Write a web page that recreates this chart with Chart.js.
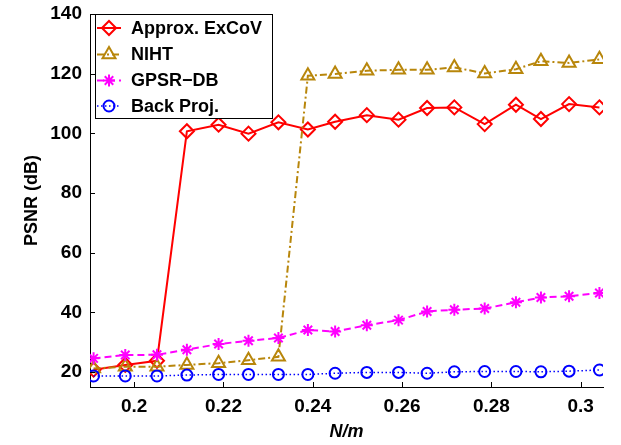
<!DOCTYPE html>
<html>
<head>
<meta charset="utf-8">
<script src="https://cdn.jsdelivr.net/npm/chart.js@4/dist/chart.umd.min.js"></script>
<style>
  html, body { margin: 0; padding: 0; background: #fff; }
  #wrap { width: 621px; height: 445px; position: relative; }
</style>
</head>
<body>
<div id="wrap"><canvas id="c" width="621" height="445"></canvas></div>
<script>
// N/m positions (x)
const nOverM = [0.1909, 0.1980, 0.2051, 0.2118, 0.2189, 0.2256, 0.2323, 0.2389, 0.2450,
                0.2521, 0.2592, 0.2656, 0.2717, 0.2785, 0.2855, 0.2911, 0.2974, 0.3042];
// PSNR (dB) per method
const approxExCoV = [20.8, 22.4, 23.8, 100.7, 102.9, 99.9, 103.7, 101.3, 103.9,
                     106.1, 104.6, 108.5, 108.7, 103.1, 109.6, 104.8, 109.8, 108.7];
const niht = [21.2, 21.8, 21.8, 22.4, 23.0, 24.0, 25.1, 119.3, 119.9,
              121.0, 121.3, 121.3, 122.1, 120.1, 121.5, 124.2, 123.6, 124.8];
const gpsrDB = [24.6, 25.7, 25.8, 27.5, 29.4, 30.5, 31.4, 34.1, 33.6,
                35.7, 37.4, 40.3, 40.9, 41.3, 43.4, 45.0, 45.4, 46.5];
const backProj = [18.7, 18.7, 18.7, 19.0, 19.2, 19.2, 19.2, 19.2, 19.6,
                  19.9, 19.9, 19.6, 20.1, 20.2, 20.2, 20.1, 20.3, 20.7];
const seriesNames = ['Approx. ExCoV', 'NIHT', 'GPSR\u2212DB', 'Back Proj.'];
const xTickValues = [0.2, 0.22, 0.24, 0.26, 0.28, 0.3];
const yTickValues = [20, 40, 60, 80, 100, 120, 140];

const FONT = "'Liberation Sans', Arial, sans-serif";
const pts = arr => arr.map((v, i) => ({ x: nOverM[i], y: v }));

const styles = [
  { color: '#ff0000', dash: [], width: 2, marker: 'rectRot', radius: 7 },
  { color: '#b8860b', dash: [7, 3, 2, 3], width: 2, marker: 'triangle', radius: 7.5 },
  { color: '#ff00ff', dash: [7, 4], width: 2, marker: 'star', radius: 6 },
  { color: '#0000ff', dash: [1.5, 2.5], width: 1.5, marker: 'circle', radius: 5.5 }
];
const seriesData = [approxExCoV, niht, gpsrDB, backProj];

const datasets = seriesData.map((d, i) => ({
  label: seriesNames[i],
  data: pts(d),
  borderColor: styles[i].color,
  borderWidth: styles[i].width,
  borderDash: styles[i].dash,
  pointStyle: styles[i].marker,
  pointRadius: styles[i].radius,
  pointBorderWidth: 2,
  pointBorderColor: styles[i].color,
  pointBackgroundColor: 'rgba(0,0,0,0)',
  fill: false,
  tension: 0,
  order: 4 - i
}));

const inwardTicks = {
  id: 'inwardTicks',
  afterDraw(chart) {
    const ctx = chart.ctx, xs = chart.scales.x, ys = chart.scales.y;
    const a = chart.chartArea;
    ctx.save();
    ctx.strokeStyle = '#000';
    ctx.lineWidth = 1;
    ctx.setLineDash([]);
    ctx.beginPath();
    xTickValues.forEach(v => {
      const px = Math.round(xs.getPixelForValue(v)) + 0.5;
      ctx.moveTo(px, a.bottom); ctx.lineTo(px, a.bottom - 5);
    });
    yTickValues.forEach(v => {
      const py = Math.round(ys.getPixelForValue(v)) + 0.5;
      ctx.moveTo(a.left, py); ctx.lineTo(a.left + 5, py);
    });
    ctx.stroke();
    ctx.restore();
  }
};

const customLegend = {
  id: 'customLegend',
  afterDraw(chart) {
    const ctx = chart.ctx;
    const bx = 95.5, by = 14.5, bw = 177, bh = 104;
    ctx.save();
    ctx.fillStyle = '#fff';
    ctx.fillRect(bx, by, bw, bh);
    ctx.strokeStyle = '#000';
    ctx.lineWidth = 1;
    ctx.setLineDash([]);
    ctx.strokeRect(bx, by, bw, bh);
    const rowY = [28, 54.5, 80.5, 106];
    seriesNames.forEach((name, i) => {
      const s = styles[i];
      const y = rowY[i];
      ctx.strokeStyle = s.color;
      ctx.lineWidth = s.width;
      ctx.setLineDash(s.dash);
      ctx.beginPath();
      ctx.moveTo(97, y); ctx.lineTo(121, y);
      ctx.stroke();
      ctx.setLineDash([]);
      ctx.lineWidth = 2;
      ctx.fillStyle = 'rgba(0,0,0,0)';
      Chart.helpers.drawPoint(ctx, { pointStyle: s.marker, radius: s.radius, rotation: 0, borderWidth: 2 }, 109, y);
      ctx.fillStyle = '#000';
      ctx.font = 'bold 18px ' + FONT;
      ctx.textBaseline = 'middle';
      ctx.textAlign = 'left';
      ctx.fillText(name, 131, y + 1);
    });
    ctx.restore();
  }
};

new Chart(document.getElementById('c'), {
  type: 'line',
  data: { datasets },
  options: {
    responsive: false,
    animation: false,
    devicePixelRatio: 1,
    layout: { padding: { top: 14, right: 18, left: 0, bottom: 0 } },
    plugins: { legend: { display: false }, tooltip: { enabled: false } },
    scales: {
      x: {
        type: 'linear',
        min: 0.1901,
        max: 0.305,
        grid: { display: false, drawTicks: false },
        border: { display: true, color: '#000', width: 1 },
        ticks: {
          stepSize: 0.02,
          includeBounds: false,
          color: '#000',
          padding: 8,
          font: { family: FONT, size: 19, weight: 'bold' },
          callback: v => parseFloat(v.toFixed(2)).toString()
        },
        title: {
          display: true,
          text: 'N/m',
          color: '#000',
          font: { family: FONT, size: 18, weight: 'bold', style: 'italic' },
          padding: { top: 0, bottom: 2 }
        },
        afterFit: s => { s.height = 58; s.paddingLeft = 0; s.paddingRight = 0; }
      },
      y: {
        type: 'linear',
        min: 15,
        max: 140,
        grid: { display: false, drawTicks: false },
        border: { display: true, color: '#000', width: 1 },
        ticks: {
          stepSize: 20,
          includeBounds: false,
          color: '#000',
          padding: 8,
          font: { family: FONT, size: 19, weight: 'bold' }
        },
        title: {
          display: true,
          text: 'PSNR (dB)',
          color: '#000',
          font: { family: FONT, size: 18, weight: 'bold' },
          padding: { top: 21, bottom: 0 }
        },
        afterFit: s => { s.width = 90; s.paddingTop = 0; s.paddingBottom = 0; }
      }
    }
  },
  plugins: [inwardTicks, customLegend]
});
</script>
</body>
</html>
